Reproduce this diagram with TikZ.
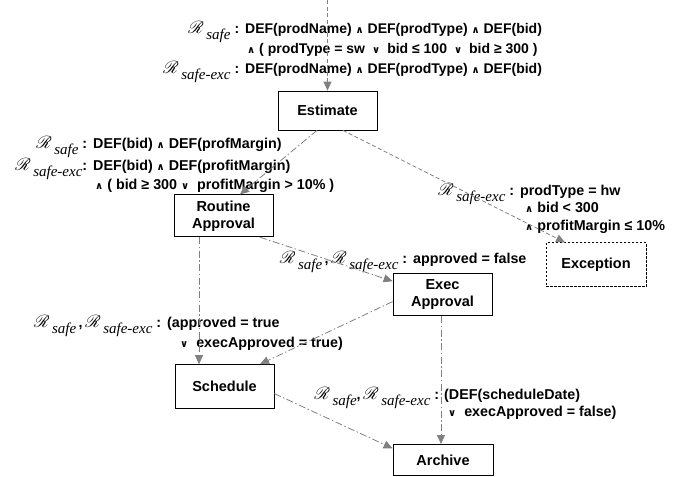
\documentclass[tikz,border=0pt]{standalone}
\usepackage{fontspec}
\setmainfont{Liberation Sans}
\newfontfamily\tnr{Liberation Serif}
\newfontfamily\dvs{DejaVu Sans}
\usepackage{mathrsfs}
\usetikzlibrary{arrows.meta}
\usetikzlibrary{positioning}
\definecolor{edgegray}{RGB}{128,128,128}
\tikzstyle{block} = [rectangle, draw=black, line width=0.8pt, fill=white,
    align=center, minimum width=99pt, minimum height=42pt, inner sep=2pt,
    font=\fontsize{14.5}{17}\selectfont\bfseries]
\tikzstyle{rule} = [anchor=base west, inner sep=0pt,
    font=\fontsize{14.3}{17}\selectfont\bfseries]
\tikzstyle{line} = [draw, edgegray, line width=0.8pt,
    dash pattern=on 7pt off 2.5pt on 1.5pt off 2.5pt,
    -{Triangle[length=9pt,width=8pt]}]
\tikzstyle{dline} = [line, dash pattern=on 4pt off 2.5pt]
\newcommand{\Rs}[1]{\smash{{\fontsize{17}{17}\selectfont$\mathscr{R}$}\hspace{2.5pt}\raisebox{-6pt}{\fontsize{15}{16}\selectfont\tnr\mdseries\itshape #1}}}
\newcommand{\andop}{{\dvs\fontsize{10}{10}\selectfont ∧}}
\newcommand{\orop}{{\dvs\fontsize{10}{10}\selectfont ∨}}
\newcommand{\colsep}{\kern4pt:\kern6pt}
\begin{document}
\begin{tikzpicture}[x=1pt, y=-1pt]
\useasboundingbox (0,0) rectangle (689,477);
% Place nodes
\node [block, minimum height=39pt] (estimate) at (327.5,110.5) {Estimate};
\node [block, below=64pt of estimate, xshift=-104pt] (routine) {Routine\\Approval};
\node [block, dash pattern=on 2.5pt off 1.5pt, minimum width=100pt, minimum height=44pt,
    below=112pt of estimate, xshift=268.5pt] (exception) {Exception};
\node [block, below=36pt of routine, xshift=219pt] (exec) {Exec\\Approval};
\node [block, minimum height=44pt, below=127pt of routine, xshift=1pt] (schedule) {Schedule};
\node [block, minimum width=100pt, minimum height=31pt, below=128pt of exec,
    xshift=0.5pt] (archive) {Archive};
\coordinate (start) at (327.5,0);

% Rule labels (anchored where the condition text starts)
\node [rule, font=\fontsize{14}{17}\selectfont\bfseries] (lEst) at (245,33) {\begin{tabular}[t]{@{}l@{}}
\llap{\Rs{safe}\colsep}DEF(prodName) \andop\ DEF(prodType) \andop\ DEF(bid)\\[3pt]
\hspace{2pt}\andop\ ( prodType = sw\kern7pt\orop\kern7pt bid ≤ 100\kern7pt\orop\kern7pt bid ≥ 300 )\\[3pt]
\llap{\Rs{safe-exc}\colsep}DEF(prodName) \andop\ DEF(prodType) \andop\ DEF(bid)
\end{tabular}};
\node [rule] (lRout) at (93,148) {\begin{tabular}[t]{@{}l@{}}
\llap{\Rs{safe}\colsep}DEF(bid) \andop\ DEF(profMargin)\\[5pt]
\llap{\Rs{safe-exc}:\kern6pt}DEF(bid) \andop\ DEF(profitMargin)\\[2pt]
\hspace{2pt}\andop\ ( bid ≥ 300 \orop\ \ profitMargin > 10\% )
\end{tabular}};
\node [rule] (lExc) at (520,195) {\begin{tabular}[t]{@{}l@{}}
\llap{\Rs{safe-exc}\colsep}prodType = hw\\[0.5pt]
\hspace{5pt}\andop\ bid < 300\\[0.5pt]
\hspace{5pt}\andop\ profitMargin ≤ 10\%
\end{tabular}};
\node [rule] (lExec) at (413,263) {\llap{\Rs{safe}\,,\,\Rs{safe-exc}\colsep}approved = false};
\node [rule] (lSched) at (167,327) {\begin{tabular}[t]{@{}l@{}}
\llap{\Rs{safe}\,,\,\Rs{safe-exc}\colsep}(approved = true\\[3pt]
\hspace{13pt}\orop\ \ execApproved = true)
\end{tabular}};
\node [rule] (lArch) at (444,399) {\begin{tabular}[t]{@{}l@{}}
\llap{\Rs{safe},\,\Rs{safe-exc}\kern4pt:\kern5pt}(DEF(scheduleDate)\\[0pt]
\hspace{4pt}\orop\ \ execApproved = false)
\end{tabular}};

% Draw edges
\path [dline] (start) -- (estimate.north);
\path [line] ([xshift=-10.5pt]estimate.south) -- ([xshift=16.5pt]routine.north);
\path [dline] ([xshift=15.5pt]estimate.south) -- ([xshift=-31pt]exception.north);
\path [line] ([xshift=36.5pt]routine.south) -- ([yshift=-8pt]exec.north west);
\path [line] ([xshift=-24.5pt]routine.south) -- ([xshift=-25.5pt]schedule.north);
\path [line] ([yshift=-7pt]exec.west) -- ([xshift=35.5pt]schedule.north);
\path [line] ([xshift=-1.5pt]exec.south) -- ([xshift=-2pt]archive.north);
\path [line] ([yshift=-7pt]schedule.east) -- ([yshift=11.5pt]archive.west);
\end{tikzpicture}
\end{document}
